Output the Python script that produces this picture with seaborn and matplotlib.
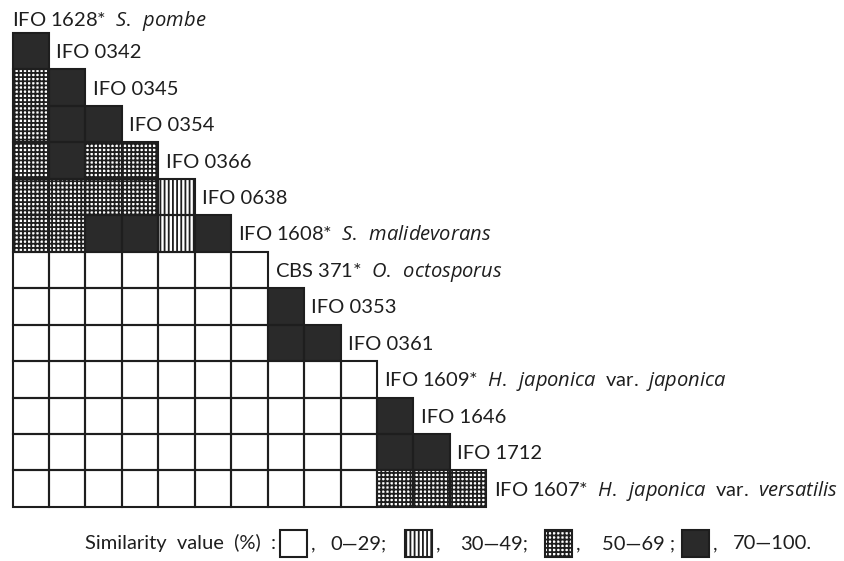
import numpy as np
import seaborn as sns
import matplotlib
matplotlib.use("Agg")
import matplotlib.pyplot as plt
from matplotlib.colors import ListedColormap
from matplotlib.patches import Rectangle

# Strains in matrix order (row k compares strain k with strains 0..k-1)
strains = ["IFO 1628*", "IFO 0342", "IFO 0345", "IFO 0354", "IFO 0366", "IFO 0638",
           "IFO 1608*", "CBS 371*", "IFO 0353", "IFO 0361", "IFO 1609*", "IFO 1646",
           "IFO 1712", "IFO 1607*"]
species = {
    0: r"$\mathit{S.}\ \,\mathit{pombe}$",
    6: r"$\mathit{S.}\ \,\mathit{malidevorans}$",
    7: r"$\mathit{O.}\ \,\mathit{octosporus}$",
    10: r"$\mathit{H.}\ \,\mathit{japonica}$  var.  $\mathit{japonica}$",
    13: r"$\mathit{H.}\ \,\mathit{japonica}$  var.  $\mathit{versatilis}$",
}

# Similarity classes: 0 = 0-29 %, 1 = 30-49 %, 2 = 50-69 %, 3 = 70-100 %
class_ranges = ["0\u201429;", "30\u201449;", "50\u201469 ;", "70\u2014100."]
similarity_rows = [
    [3],
    [2, 3],
    [2, 3, 3],
    [2, 3, 2, 2],
    [2, 2, 2, 2, 1],
    [2, 2, 3, 3, 1, 3],
    [0, 0, 0, 0, 0, 0, 0],
    [0, 0, 0, 0, 0, 0, 0, 3],
    [0, 0, 0, 0, 0, 0, 0, 3, 3],
    [0, 0, 0, 0, 0, 0, 0, 0, 0, 0],
    [0, 0, 0, 0, 0, 0, 0, 0, 0, 0, 3],
    [0, 0, 0, 0, 0, 0, 0, 0, 0, 0, 3, 3],
    [0, 0, 0, 0, 0, 0, 0, 0, 0, 0, 2, 2, 2],
]

sns.set_style("white")
plt.rcParams["font.family"] = ["Lato", "DejaVu Sans"]
plt.rcParams["mathtext.fontset"] = "custom"
plt.rcParams["mathtext.rm"] = "Lato"
plt.rcParams["mathtext.it"] = "Open Sans:italic"
plt.rcParams["hatch.linewidth"] = 1.3
plt.rcParams["hatch.color"] = "#1e1e1e"

INK = "#1e1e1e"
SOLID = "#2a2a2a"
FS = 14.5
hatches = {0: None, 1: "||||", 2: "++++", 3: None}

n = len(similarity_rows)
mat = np.full((n, n), np.nan)
for r, row in enumerate(similarity_rows):
    mat[r, :len(row)] = row

W, H = 844, 561
fig = plt.figure(figsize=(W / 100, H / 100), dpi=100)
cell = 36.45
left, top = 12.5, 33.0
ax = fig.add_axes([left / W, 1 - (top + n * cell) / H, n * cell / W, n * cell / H])

sns.heatmap(mat, mask=np.isnan(mat), cmap=ListedColormap(["white", "white", "white", SOLID]),
            vmin=-0.5, vmax=3.5, cbar=False, linewidths=0,
            xticklabels=False, yticklabels=False, ax=ax)
ax.set_xlim(0, n)
ax.set_ylim(n, 0)
ax.axis("off")

# Cell outlines and hatch patterns
for r, row in enumerate(similarity_rows):
    for c, code in enumerate(row):
        ax.add_patch(Rectangle((c, r), 1, 1, facecolor="none", edgecolor=INK,
                               lw=1.5, hatch=hatches[code], clip_on=False))

# Strain labels at the end of each row
for k, name in enumerate(strains):
    label = name + ("  " + species[k] if k in species else "")
    if k == 0:
        x, y = 0.0, -0.19
    else:
        x, y = k + 0.2, (k - 1) + 0.5 + 0.19
    ax.text(x, y, label, fontsize=FS, color=INK, ha="left", va="baseline")

# Key line beneath the matrix
base_y = 549.0
fig.text(276 / W, 1 - base_y / H, "Similarity  value  (%)  :", fontsize=FS, color=INK,
         ha="right", va="baseline")
box_x = [280, 405, 545, 682]
text_x = [330, 460, 602, 733]
for code in range(4):
    bx = box_x[code]
    fc = SOLID if code == 3 else "white"
    fig.add_artist(Rectangle((bx / W, 1 - 557 / H), 27 / W, 27 / H, transform=fig.transFigure,
                             facecolor=fc, edgecolor=INK, lw=1.5, hatch=hatches[code]))
    fig.text((bx + 31) / W, 1 - base_y / H, ",", fontsize=FS, color=INK,
             ha="left", va="baseline")
    fig.text(text_x[code] / W, 1 - base_y / H, class_ranges[code], fontsize=FS, color=INK,
             ha="left", va="baseline")

fig.savefig("out.png", dpi=100, facecolor="white")
